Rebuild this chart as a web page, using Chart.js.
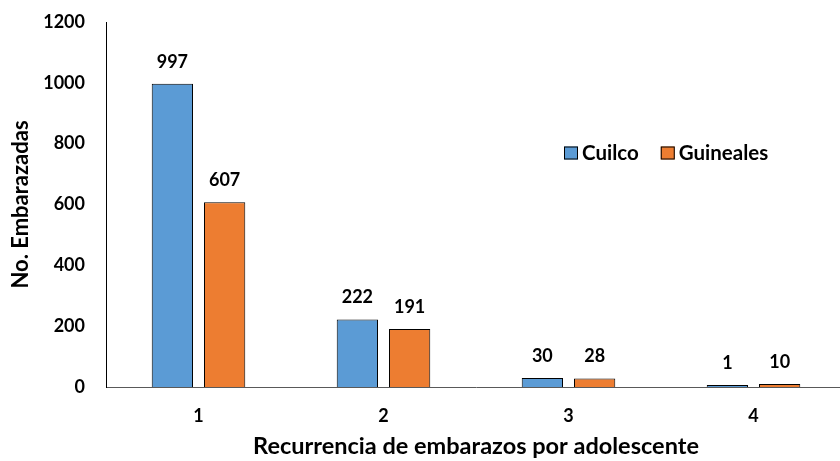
<!DOCTYPE html>
<html>
<head>
<meta charset="utf-8">
<script src="https://cdn.jsdelivr.net/npm/chart.js@4"></script>
<style>
html,body{margin:0;padding:0;background:#fff;}
#wrap{width:840px;height:461px;position:relative;overflow:hidden;}
</style>
</head>
<body>
<div id="wrap"><canvas id="c" width="846" height="461"></canvas></div>
<script>
const categories = ['1', '2', '3', '4'];
const cuilco = [997, 222, 30, 1];
const guineales = [607, 191, 28, 10];
const seriesNames = ['Cuilco', 'Guineales'];
const yTicks = [0, 200, 400, 600, 800, 1000, 1200];

const FONT = 'Lato, "Open Sans", sans-serif';
const W = 'bold';
const BLUE = '#5B9BD5';
const ORANGE = '#ED7D31';

const valueLabels = {
  id: 'valueLabels',
  afterDatasetsDraw(chart) {
    const ctx = chart.ctx;
    ctx.save();
    ctx.font = W + ' 18px ' + FONT;
    ctx.fillStyle = '#000';
    ctx.textAlign = 'center';
    ctx.textBaseline = 'bottom';
    chart.data.datasets.forEach((ds, i) => {
      chart.getDatasetMeta(i).data.forEach((bar, j) => {
        ctx.fillText(String(ds.data[j]), bar.x, bar.y - 13);
      });
    });
    ctx.restore();
  }
};

const customLegend = {
  id: 'customLegend',
  afterDraw(chart) {
    const ctx = chart.ctx;
    ctx.save();
    ctx.font = W + ' 20.5px ' + FONT;
    ctx.textBaseline = 'middle';
    let x = 564;
    const y = 153;
    chart.data.datasets.forEach((ds) => {
      ctx.fillStyle = ds.backgroundColor;
      ctx.fillRect(x, y - 6.5, 14, 13);
      ctx.strokeStyle = '#000';
      ctx.lineWidth = 1;
      ctx.strokeRect(x + 0.5, y - 6, 13, 12);
      ctx.fillStyle = '#000';
      ctx.textAlign = 'left';
      ctx.fillText(ds.label, x + 18, y);
      x += 18 + ctx.measureText(ds.label).width + 22;
    });
    ctx.restore();
  }
};

new Chart(document.getElementById('c'), {
  type: 'bar',
  data: {
    labels: categories,
    datasets: [
      { label: seriesNames[0], data: cuilco, backgroundColor: BLUE, borderColor: '#000', borderWidth: 1, minBarLength: 2 },
      { label: seriesNames[1], data: guineales, backgroundColor: ORANGE, borderColor: '#000', borderWidth: 1, minBarLength: 2 }
    ]
  },
  options: {
    responsive: false,
    animation: false,
    devicePixelRatio: 1,
    categoryPercentage: 0.565,
    barPercentage: 0.79,
    layout: { padding: { top: 22, right: 0, left: 0, bottom: 0 } },
    plugins: {
      legend: { display: false },
      tooltip: { enabled: false }
    },
    scales: {
      x: {
        grid: { display: false, drawTicks: false },
        border: { display: true, color: '#595959', width: 1 },
        ticks: { color: '#000', font: { family: FONT, size: 18, weight: W }, padding: 18 },
        title: { display: true, text: 'Recurrencia de embarazos por adolescente', color: '#000',
                 font: { family: FONT, size: 23.5, weight: W }, padding: { top: 12, bottom: 0 } },
        afterFit(scale) { scale.height = 74; scale.paddingLeft = 0; scale.paddingRight = 0; }
      },
      y: {
        min: 0, max: 1200,
        afterBuildTicks(scale) { scale.ticks = yTicks.map(v => ({ value: v })); },
        grid: { display: false, drawTicks: false },
        border: { display: true, color: '#000', width: 1 },
        ticks: { color: '#000', font: { family: FONT, size: 18, weight: W }, padding: 21,
                 callback: (v) => String(v) },
        title: { display: true, text: 'No. Embarazadas', color: '#000',
                 font: { family: FONT, size: 22, weight: W }, padding: { top: 8, bottom: 0 } },
        afterFit(scale) { scale.width = 106; scale.paddingTop = 0; scale.paddingBottom = 0; }
      }
    }
  },
  plugins: [valueLabels, customLegend]
});
</script>
</body>
</html>
